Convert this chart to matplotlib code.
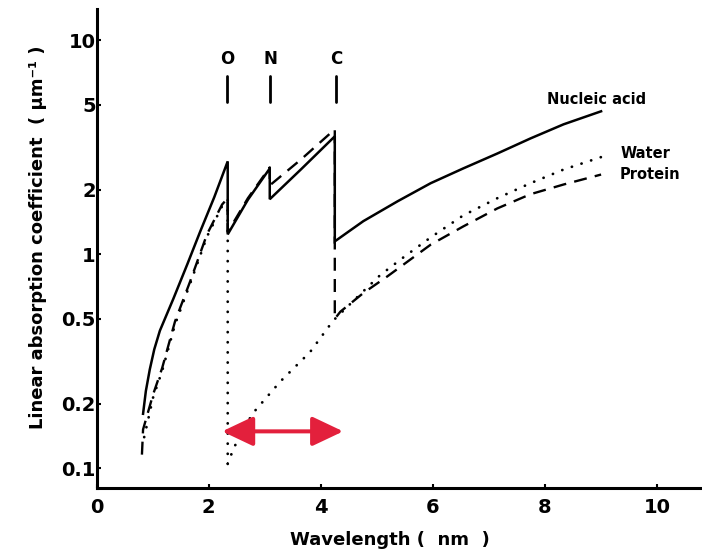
import numpy as np
import matplotlib
matplotlib.use('Agg')
import matplotlib.pyplot as plt
from matplotlib.ticker import NullLocator

####DATA####
# nucleic acid (solid), edges at O, N, C
nucleic_x = [0.83, 0.88, 0.95, 1.03, 1.13, 1.37, 1.62, 1.85, 2.10, 2.34, 2.34, 2.70, 3.09, 3.09, 3.65, 4.25, 4.25,
             4.50, 4.76, 5.37, 5.96, 6.54, 7.15, 7.74, 8.33, 9.0]
nucleic_y = [0.18, 0.23, 0.29, 0.36, 0.44, 0.62, 0.90, 1.28, 1.85, 2.72, 1.24, 1.80, 2.52, 1.81, 2.50, 3.56, 1.15,
             1.28, 1.43, 1.77, 2.15, 2.52, 2.96, 3.48, 4.05, 4.66]

# protein (dashed)
protein_x = [0.81, 0.83, 1.01, 1.17, 1.40, 1.67, 1.97, 2.24, 2.34, 2.34, 2.70, 3.09, 3.09, 3.65, 4.25, 4.25,
             4.35, 4.76, 5.19, 5.96, 6.54, 7.15, 7.74, 8.33, 9.0]
protein_y = [0.116, 0.152, 0.222, 0.294, 0.486, 0.748, 1.24, 1.71, 1.83, 1.27, 1.83, 2.55, 2.10, 2.78, 3.84, 0.50,
             0.54, 0.66, 0.79, 1.11, 1.35, 1.64, 1.91, 2.12, 2.36]

# water (dotted)
water_x = [0.85, 1.01, 1.17, 1.40, 1.67, 1.97, 2.24, 2.34, 2.34, 2.45, 2.78, 3.28, 3.81, 4.22, 4.70,
           5.06, 5.50, 5.96, 6.54, 7.15, 7.74, 8.33, 9.04]
water_y = [0.14, 0.215, 0.285, 0.47, 0.73, 1.21, 1.68, 1.80, 0.105, 0.125, 0.18, 0.255, 0.35, 0.49, 0.65,
           0.80, 0.98, 1.20, 1.52, 1.83, 2.15, 2.49, 2.87]

edge_names = ['O', 'N', 'C']
edge_x = [2.33, 3.10, 4.28]

xticks = [0, 2, 4, 6, 8, 10]
yticks = [0.1, 0.2, 0.5, 1, 2, 5, 10]
ytick_labels = ['0.1', '0.2', '0.5', '1', '2', '5', '10']

# window shown by the red arrow
arrow_range = [2.24, 4.40]
arrow_level = 0.149

####PLOT####
plt.rcParams['font.family'] = 'DejaVu Sans'
plt.rcParams['font.weight'] = 'bold'

fig = plt.figure(figsize=(7.02, 5.51), dpi=100)
ax = fig.add_axes([0.1375, 0.1143, 0.8625, 0.8693])

ax.plot(nucleic_x, nucleic_y, color='black', lw=1.8, solid_joinstyle='miter')
ax.plot(protein_x, protein_y, color='black', lw=1.7, linestyle=(0, (5.5, 3.5)))
ax.plot(water_x, water_y, color='black', lw=2.0, linestyle=(0, (0.05, 3.6)),
        dash_capstyle='round')

ax.set_yscale('log')
ax.set_xlim(0, 10.8)
ax.set_ylim(0.081, 14)

ax.set_xticks(xticks)
ax.set_xticklabels([str(t) for t in xticks])
ax.set_yticks(yticks)
ax.set_yticklabels(ytick_labels)
ax.yaxis.set_minor_locator(NullLocator())
ax.tick_params(direction='in', length=3, width=1.5, labelsize=14, pad=0.5)
ax.tick_params(axis='x', pad=7)
for lab in ax.get_xticklabels() + ax.get_yticklabels():
    lab.set_fontweight('bold')

for s in ['top', 'right']:
    ax.spines[s].set_visible(False)
for s in ['left', 'bottom']:
    ax.spines[s].set_linewidth(2.2)

# absorption edge markers
for name, xe in zip(edge_names, edge_x):
    ax.text(xe, 8.2, name, ha='center', va='center', fontsize=12, fontweight='bold')
    ax.plot([xe, xe], [5.15, 6.8], color='black', lw=2.0, solid_capstyle='round')

# curve labels
ax.text(8.04, 5.3, 'Nucleic acid', ha='left', va='center', fontsize=10.5, fontweight='bold')
ax.text(9.35, 2.97, 'Water', ha='left', va='center', fontsize=10.5, fontweight='bold')
ax.text(9.33, 2.36, 'Protein', ha='left', va='center', fontsize=10.5, fontweight='bold')

# red double arrow
ax.annotate('', xy=(arrow_range[0], arrow_level), xytext=(arrow_range[1], arrow_level),
            arrowprops=dict(arrowstyle='<|-|>,head_length=0.95,head_width=0.45',
                            color='#e3203c', lw=2.9, shrinkA=0, shrinkB=0,
                            mutation_scale=20))

fig.text(390 / 702, 1 - 540 / 551, 'Wavelength (  nm  )', ha='center', va='center',
         fontsize=13, fontweight='bold')
fig.text(38 / 702, 1 - 237 / 551, 'Linear absorption coefficient  ( \u03bcm\u207b\u00b9 )',
         ha='center', va='center', rotation=90, fontsize=13, fontweight='bold')

fig.savefig('out.png', dpi=100, facecolor='white')
